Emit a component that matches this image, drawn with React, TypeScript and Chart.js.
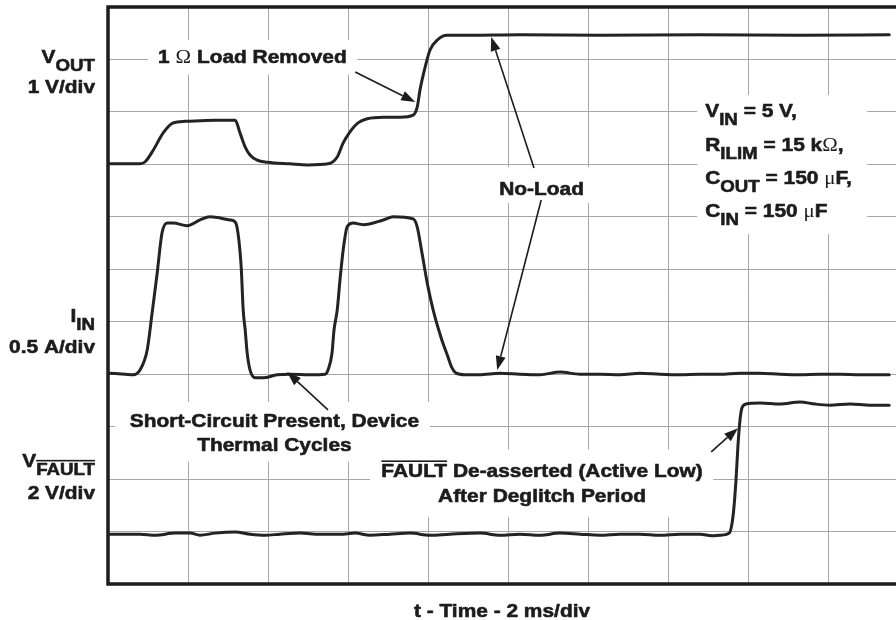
import React, { useEffect, useRef } from "react";
import { Chart, registerables } from "chart.js";

Chart.register(...registerables);

// ---------- data (time in ms, amplitude in screen divisions) ----------
const TIME_MAX_MS = 19.7;
const TIME_STEP_MS = 2;
const Y_DIVS = 11;

const voutT = [0.05, 0.8, 0.93, 1.13, 1.38, 1.63, 1.93, 2.3, 2.68, 3.18, 3.3, 3.43, 3.55, 3.73, 3.98, 4.55, 5.0, 5.5, 5.73, 5.88, 6.05, 6.25, 6.48, 6.88, 7.3, 7.63, 7.73, 7.8, 7.93, 8.05, 8.23, 8.48, 9.05, 10.3, 12.3, 14.8, 17.3, 19.53];
const voutV = [8.01, 8.01, 8.05, 8.27, 8.6, 8.79, 8.82, 8.83, 8.84, 8.84, 8.6, 8.33, 8.18, 8.08, 8.04, 8.01, 7.99, 8.01, 8.14, 8.41, 8.62, 8.79, 8.87, 8.9, 8.9, 8.94, 9.09, 9.42, 9.86, 10.18, 10.37, 10.46, 10.46, 10.47, 10.46, 10.47, 10.46, 10.47];

const iinT = [0.05, 0.43, 0.63, 0.8, 0.98, 1.1, 1.23, 1.35, 1.48, 1.63, 1.98, 2.3, 2.55, 3.05, 3.18, 3.25, 3.33, 3.38, 3.43, 3.48, 3.55, 3.68, 3.88, 4.23, 4.55, 5.05, 5.43, 5.5, 5.6, 5.65, 5.73, 5.8, 5.88, 5.98, 6.13, 6.38, 6.88, 7.13, 7.63, 7.73, 7.85, 7.98, 8.13, 8.33, 8.48, 8.6, 8.7, 8.93, 9.28, 9.8, 10.3, 10.8, 11.3, 11.8, 12.3, 12.8, 13.3, 13.8, 14.3, 14.8, 15.3, 15.8, 16.3, 16.8, 17.3, 17.8, 18.3, 18.8, 19.53];
const iinV = [4.02, 4.0, 3.99, 4.08, 4.46, 5.15, 5.93, 6.69, 6.88, 6.88, 6.83, 6.94, 7.0, 6.94, 6.9, 6.69, 6.04, 5.22, 4.84, 4.4, 4.08, 3.93, 3.93, 3.99, 4.0, 3.99, 4.0, 4.08, 4.4, 4.84, 5.22, 5.8, 6.37, 6.81, 6.88, 6.85, 6.94, 7.0, 6.96, 6.81, 6.31, 5.74, 5.22, 4.69, 4.37, 4.12, 4.02, 3.99, 3.99, 4.02, 4.0, 3.99, 4.04, 4.0, 4.0, 3.99, 4.02, 4.0, 3.99, 4.0, 4.0, 4.02, 4.02, 4.0, 3.99, 4.0, 4.0, 3.99, 3.99];

const faultT = [0.05, 0.8, 1.18, 1.68, 2.05, 2.3, 2.68, 3.18, 3.55, 3.93, 4.3, 4.8, 5.3, 5.8, 6.18, 6.55, 7.05, 7.55, 8.05, 8.55, 9.3, 9.8, 10.3, 10.8, 11.3, 11.8, 12.3, 12.8, 13.3, 13.8, 14.3, 14.8, 15.1, 15.3, 15.53, 15.63, 15.7, 15.75, 15.8, 15.85, 15.95, 16.3, 16.8, 17.3, 17.68, 18.05, 18.55, 19.05, 19.53];
const faultV = [0.95, 0.95, 0.93, 0.97, 0.97, 0.93, 0.97, 0.99, 0.95, 0.93, 0.95, 0.97, 0.95, 0.95, 0.97, 0.93, 0.95, 0.97, 0.93, 0.95, 0.97, 0.93, 0.95, 0.93, 0.97, 0.95, 0.93, 0.95, 0.95, 0.93, 0.95, 0.95, 0.92, 0.93, 0.97, 1.32, 1.98, 2.65, 3.13, 3.36, 3.43, 3.45, 3.43, 3.47, 3.43, 3.41, 3.43, 3.41, 3.41];

const xTitle = "t - Time - 2 ms/div";

// ---------- styling ----------
const INK = "#1c1c1c";
const TRACE = "#232323";
const GRID = "#a6a6a6";
const SX = 1.1;
const FONT = '"Liberation Sans", Arial, sans-serif';
const SERIF = '"Liberation Serif", "Times New Roman", serif';
const MAIN_PX = 19;
const SUB_PX = 17;

type Seg = { t: string; sub?: boolean; serif?: boolean; over?: boolean };

function segFont(s: Seg) {
  const size = s.sub ? SUB_PX : MAIN_PX;
  return s.serif ? `${size}px ${SERIF}` : `bold ${size}px ${FONT}`;
}

function drawRich(ctx: CanvasRenderingContext2D, segs: Seg[], x: number, y: number, align: "left" | "center" | "right") {
  let total = 0;
  const widths = segs.map((s) => {
    ctx.font = segFont(s);
    const w = ctx.measureText(s.t).width;
    total += w;
    return w;
  });
  let start = x;
  if (align === "center") start = x - (total * SX) / 2;
  else if (align === "right") start = x - total * SX;
  ctx.save();
  ctx.translate(start, y);
  ctx.scale(SX, 1);
  ctx.fillStyle = INK;
  ctx.strokeStyle = INK;
  ctx.lineWidth = 0.6;
  ctx.lineJoin = "round";
  ctx.textAlign = "left";
  ctx.textBaseline = "alphabetic";
  let cx = 0;
  segs.forEach((s, i) => {
    ctx.font = segFont(s);
    const dy = s.sub ? 8 : 0;
    ctx.fillText(s.t, cx, dy);
    if (!s.serif) ctx.strokeText(s.t, cx, dy);
    if (s.over) {
      const size = s.sub ? SUB_PX : MAIN_PX;
      ctx.fillRect(cx, dy - size * 0.716 - 3, widths[i], 1.6);
    }
    cx += widths[i];
  });
  ctx.restore();
}

function arrow(ctx: CanvasRenderingContext2D, x1: number, y1: number, x2: number, y2: number) {
  const ang = Math.atan2(y2 - y1, x2 - x1);
  const L = 14;
  const hw = 5;
  const bx = x2 - L * Math.cos(ang);
  const by = y2 - L * Math.sin(ang);
  ctx.save();
  ctx.strokeStyle = INK;
  ctx.fillStyle = INK;
  ctx.lineWidth = 1.6;
  ctx.beginPath();
  ctx.moveTo(x1, y1);
  ctx.lineTo(bx, by);
  ctx.stroke();
  ctx.beginPath();
  ctx.moveTo(x2, y2);
  ctx.lineTo(bx + hw * Math.sin(ang), by - hw * Math.cos(ang));
  ctx.lineTo(bx - hw * Math.sin(ang), by + hw * Math.cos(ang));
  ctx.closePath();
  ctx.fill();
  ctx.restore();
}

// annotation anchors, in data units (ms, div)
const boxes: [number, number, number, number][] = [
  [1.0, 10.37, 6.23, 9.71],
  [9.55, 7.95, 12.1, 7.26],
  [14.73, 9.32, 18.98, 6.67],
  [0.18, 3.47, 8.05, 2.33],
  [6.55, 2.56, 15.13, 1.28],
];

const overlay = {
  id: "scopeOverlay",
  beforeDatasetsDraw(chart: any) {
    const { ctx, scales } = chart;
    const X = (v: number) => scales.x.getPixelForValue(v);
    const Y = (v: number) => scales.y.getPixelForValue(v);
    ctx.save();
    ctx.fillStyle = "#ffffff";
    boxes.forEach(([x1, y1, x2, y2]) => {
      ctx.fillRect(X(x1), Y(y1), X(x2) - X(x1), Y(y2) - Y(y1));
    });
    ctx.restore();
  },
  afterDraw(chart: any) {
    const { ctx, scales, chartArea } = chart;
    const X = (v: number) => scales.x.getPixelForValue(v);
    const Y = (v: number) => scales.y.getPixelForValue(v);
    const { left, right, top, bottom } = chartArea;

    // frame
    ctx.save();
    ctx.strokeStyle = INK;
    ctx.lineWidth = 3.5;
    ctx.beginPath();
    ctx.moveTo(right, top);
    ctx.lineTo(left, top);
    ctx.lineTo(left, bottom);
    ctx.lineTo(right, bottom);
    ctx.stroke();
    ctx.restore();

    // channel labels
    const lx = left - 13;
    drawRich(ctx, [{ t: "V" }, { t: "OUT", sub: true }], lx, Y(9.93), "right");
    drawRich(ctx, [{ t: "1 V/div" }], lx, Y(9.36), "right");
    drawRich(ctx, [{ t: "I" }, { t: "IN", sub: true }], lx, Y(5.0), "right");
    drawRich(ctx, [{ t: "0.5 A/div" }], lx, Y(4.4), "right");
    drawRich(ctx, [{ t: "V" }, { t: "FAULT", sub: true, over: true }], lx, Y(2.23), "right");
    drawRich(ctx, [{ t: "2 V/div" }], lx, Y(1.62), "right");

    // x title
    drawRich(ctx, [{ t: xTitle }], (left + right) / 2, bottom + 33, "center");

    // 1 Ω load removed
    drawRich(ctx, [{ t: "1 " }, { t: "Ω", serif: true }, { t: " Load Removed" }], X(3.61), Y(9.93), "center");
    arrow(ctx, X(6.18), Y(9.76), X(7.68), Y(9.19));

    // No-Load
    drawRich(ctx, [{ t: "No-Load" }], X(10.84), Y(7.42), "center");
    arrow(ctx, X(10.65), Y(7.93), X(9.58), Y(10.43));
    arrow(ctx, X(10.83), Y(7.32), X(9.73), Y(4.08));

    // conditions
    const px = X(14.93);
    drawRich(ctx, [{ t: "V" }, { t: "IN", sub: true }, { t: " = 5 V," }], px, Y(8.9), "left");
    drawRich(ctx, [{ t: "R" }, { t: "ILIM", sub: true }, { t: " = 15 k" }, { t: "Ω", serif: true }, { t: "," }], px, Y(8.26), "left");
    drawRich(ctx, [{ t: "C" }, { t: "OUT", sub: true }, { t: " = 150 " }, { t: "μ", serif: true }, { t: "F," }], px, Y(7.63), "left");
    drawRich(ctx, [{ t: "C" }, { t: "IN", sub: true }, { t: " = 150 " }, { t: "μ", serif: true }, { t: "F" }], px, Y(7.0), "left");

    // short circuit
    drawRich(ctx, [{ t: "Short-Circuit Present, Device" }], X(4.16), Y(2.99), "center");
    drawRich(ctx, [{ t: "Thermal Cycles" }], X(4.16), Y(2.54), "center");
    arrow(ctx, X(5.5), Y(3.32), X(4.48), Y(4.04));

    // fault
    drawRich(ctx, [{ t: "FAULT", over: true }, { t: " De-asserted (Active Low)" }], X(10.85), Y(2.04), "center");
    drawRich(ctx, [{ t: "After Deglitch Period" }], X(10.85), Y(1.56), "center");
    arrow(ctx, X(15.08), Y(2.52), X(15.75), Y(2.97));
  },
};

function series(ts: number[], vs: number[]) {
  return ts.map((t, i) => ({ x: t, y: vs[i] }));
}

export default function App() {
  const ref = useRef<HTMLCanvasElement | null>(null);
  useEffect(() => {
    if (!ref.current) return;
    const common = {
      borderColor: TRACE,
      borderWidth: 3,
      pointRadius: 0,
      fill: false,
      cubicInterpolationMode: "monotone" as const,
      borderJoinStyle: "round" as const,
      borderCapStyle: "round" as const,
    };
    const chart = new Chart(ref.current, {
      type: "line",
      data: {
        datasets: [
          { ...common, label: "VOUT", data: series(voutT, voutV) },
          { ...common, label: "IIN", data: series(iinT, iinV) },
          { ...common, label: "VFAULT", data: series(faultT, faultV) },
        ],
      },
      options: {
        responsive: false,
        animation: false,
        devicePixelRatio: 1,
        events: [],
        layout: { padding: { left: 108, top: 7, right: 0, bottom: 36 } },
        plugins: { legend: { display: false }, tooltip: { enabled: false } },
        scales: {
          x: {
            type: "linear",
            min: 0,
            max: TIME_MAX_MS,
            ticks: { display: false, stepSize: TIME_STEP_MS },
            grid: { color: GRID, lineWidth: 1, drawTicks: false },
            border: { display: false },
            afterBuildTicks: (s: any) => {
              s.ticks = s.ticks.filter((tk: any) => Math.abs(tk.value / TIME_STEP_MS - Math.round(tk.value / TIME_STEP_MS)) < 1e-6);
            },
          },
          y: {
            type: "linear",
            min: 0,
            max: Y_DIVS,
            ticks: { display: false, stepSize: 1 },
            grid: { color: GRID, lineWidth: 1, drawTicks: false },
            border: { display: false },
          },
        },
      },
      plugins: [overlay],
    });
    return () => chart.destroy();
  }, []);
  return (
    <div style={{ position: "fixed", left: 0, top: 0, width: 896, height: 620, background: "#fff" }}>
      <canvas ref={ref} width={896} height={620} style={{ display: "block" }} />
    </div>
  );
}
